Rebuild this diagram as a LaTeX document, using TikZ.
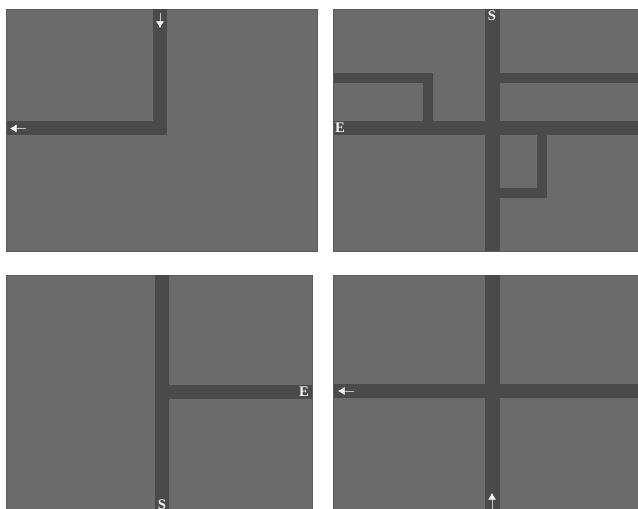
\documentclass[tikz,border=0pt]{standalone}
\usepackage{fontspec}
\setmainfont{Liberation Serif}
\usetikzlibrary{arrows.meta}
\definecolor{panelc}{HTML}{6B6B6B}
\definecolor{edgec}{HTML}{5C5C5C}
\definecolor{corr}{HTML}{4A4A4A}
\definecolor{marker}{HTML}{F4F4F4}
\tikzset{
  panel/.style={fill=panelc,draw=edgec,line width=1pt},
  corridor/.style={fill=corr,draw=none},
  letter/.style={text=marker,font=\bfseries\fontsize{11}{11}\selectfont,inner sep=0pt},
  flow/.style={draw=marker!70!corr,line width=0.45pt,-{Latex[length=5pt,width=6pt,color=marker]}}
}
\begin{document}
\begin{tikzpicture}[x=0.75pt,y=-0.75pt]
\useasboundingbox (0,0) rectangle (638,509);
% panel 1
\draw[panel] (6.5,9.5) rectangle (317.5,251.5);
\fill[corridor] (152.5,9.5) rectangle (166.5,135);
\fill[corridor] (6.5,121) rectangle (166.5,135);
\coordinate (a1) at (160,13); \coordinate (a2) at (160,28);
\draw[flow] (a1) -- (a2);
\coordinate (b1) at (26,128.5); \coordinate (b2) at (10,128.5);
\draw[flow] (b1) -- (b2);
% panel 2
\draw[panel] (333.5,9.5) rectangle (638.5,251.5);
\fill[corridor] (485,9.5) rectangle (499.5,251.5);
\fill[corridor] (334,121) rectangle (638,135);
\fill[corridor] (334,73) rectangle (432.5,83);
\fill[corridor] (422.5,73) rectangle (432.5,121);
\fill[corridor] (499.5,73.5) rectangle (638,83);
\fill[corridor] (537,135) rectangle (547,198);
\fill[corridor] (499.5,188) rectangle (547,198);
\node[letter] (s1) at (492,16) {S};
\node[letter] (e1) at (340,128) {E};
% panel 3
\draw[panel] (6.5,275.5) rectangle (312.5,510);
\fill[corridor] (155,275.5) rectangle (169,510);
\fill[corridor] (169,385) rectangle (311.5,399);
\node[letter] (e2) at (304,391.5) {E};
\node[letter] (s2) at (162,505) {S};
% panel 4
\draw[panel] (333.5,275.5) rectangle (638.5,510);
\fill[corridor] (485,275.5) rectangle (499.5,510);
\fill[corridor] (334,384) rectangle (638,398);
\coordinate (c1) at (354,391); \coordinate (c2) at (338,391);
\draw[flow] (c1) -- (c2);
\coordinate (d1) at (492,509); \coordinate (d2) at (492,493);
\draw[flow] (d1) -- (d2);
\end{tikzpicture}
\end{document}
